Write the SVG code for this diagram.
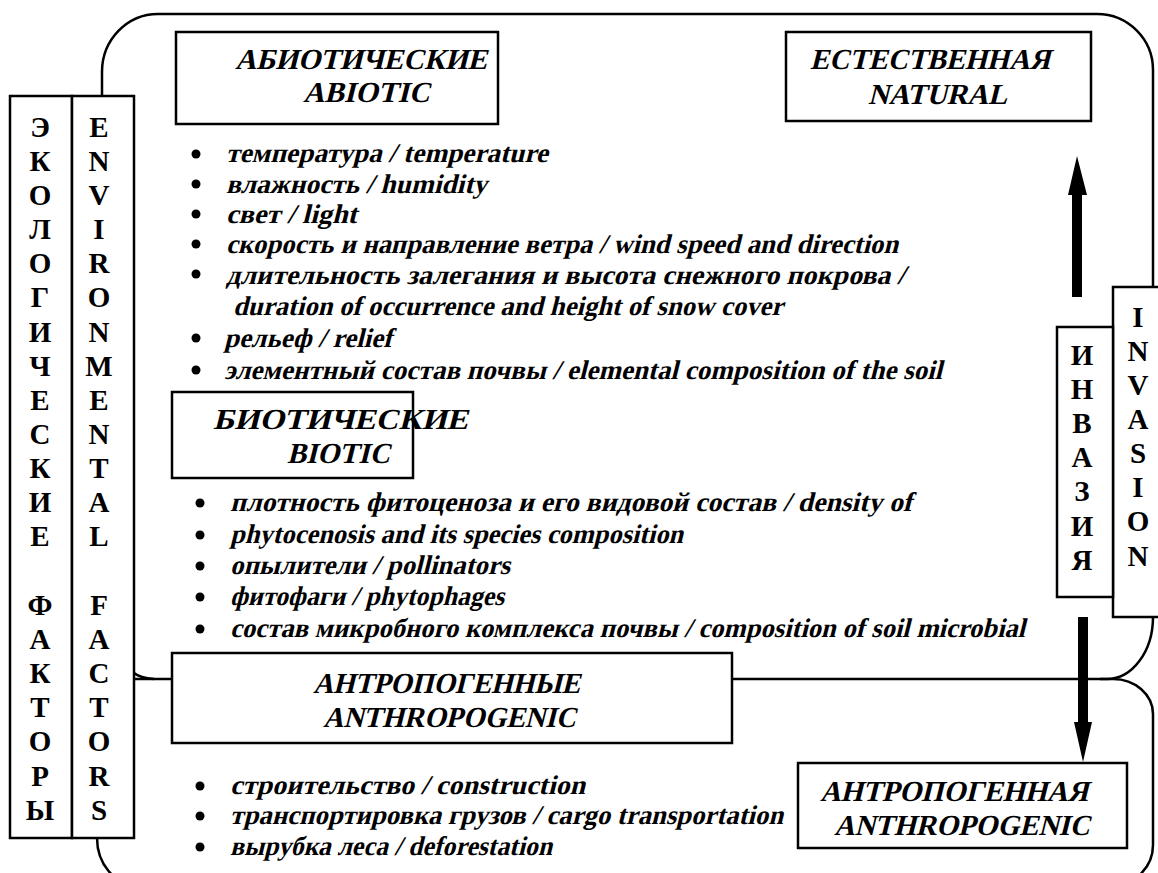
<svg xmlns="http://www.w3.org/2000/svg" width="1158" height="873" viewBox="0 0 1158 873">
<style>
.ln{fill:none;stroke:#000;stroke-width:2.5}
.bx{fill:#fff;stroke:#000;stroke-width:2.5}
.hd{font-family:"Liberation Serif","Times New Roman",serif;font-weight:bold;font-size:29px;fill:#000}
.it{font-family:"Liberation Serif","Times New Roman",serif;font-weight:bold;font-size:27px;fill:#000}
.vl{font-family:"Liberation Serif","Times New Roman",serif;font-weight:bold;font-size:29px;fill:#000;text-anchor:middle}
.bu{fill:#000}
</style>
<rect width="1158" height="873" fill="#fff"/>
<g id="connectors">
<path class="ln" d="M102,96 L102,72 A56,58 0 0 1 158,14 L1097,14 A56,56 0 0 1 1153,70 L1153,288"/>
<path class="ln" d="M1153,617 A46,62 0 0 1 1107,679 L732,679"/>
<path class="ln" d="M1100,679 L1113,679 A40,35 0 0 1 1153,714 L1153,845 A40,40 0 0 1 1113,885 L137,885 A40,47 0 0 1 97,838"/>
<path class="ln" d="M134,679 L172,679"/>
<path class="ln" d="M134,673 Q140,678 154,679" stroke-width="2"/>
<path class="bu" d="M1072,297 L1072,195 L1068,195 L1077,156 L1087,195 L1082,195 L1082,297 Z"/>
<path class="bu" d="M1078,617 L1088,617 L1088,722 L1092,722 L1083,762 L1074,722 L1078,722 Z"/>
</g>
<g id="eco-factors">
<rect class="bx" x="10" y="96" width="62" height="742"/>
<text class="vl" x="40" y="137">Э</text>
<text class="vl" x="40" y="171">К</text>
<text class="vl" x="40" y="205">О</text>
<text class="vl" x="40" y="239">Л</text>
<text class="vl" x="40" y="273">О</text>
<text class="vl" x="40" y="307">Г</text>
<text class="vl" x="40" y="342">И</text>
<text class="vl" x="40" y="376">Ч</text>
<text class="vl" x="40" y="410">Е</text>
<text class="vl" x="40" y="444">С</text>
<text class="vl" x="40" y="478">К</text>
<text class="vl" x="40" y="512">И</text>
<text class="vl" x="40" y="546">Е</text>
<text class="vl" x="40" y="615">Ф</text>
<text class="vl" x="40" y="649">А</text>
<text class="vl" x="40" y="683">К</text>
<text class="vl" x="40" y="717">Т</text>
<text class="vl" x="40" y="751">О</text>
<text class="vl" x="40" y="786">Р</text>
<text class="vl" x="40" y="820">Ы</text>
</g>
<g id="env-factors">
<rect class="bx" x="72" y="96" width="62" height="742"/>
<text class="vl" x="99" y="137">E</text>
<text class="vl" x="99" y="171">N</text>
<text class="vl" x="99" y="205">V</text>
<text class="vl" x="99" y="239">I</text>
<text class="vl" x="99" y="273">R</text>
<text class="vl" x="99" y="307">O</text>
<text class="vl" x="99" y="342">N</text>
<text class="vl" x="99" y="376">M</text>
<text class="vl" x="99" y="410">E</text>
<text class="vl" x="99" y="444">N</text>
<text class="vl" x="99" y="478">T</text>
<text class="vl" x="99" y="512">A</text>
<text class="vl" x="99" y="546">L</text>
<text class="vl" x="99" y="615">F</text>
<text class="vl" x="99" y="649">A</text>
<text class="vl" x="99" y="683">C</text>
<text class="vl" x="99" y="717">T</text>
<text class="vl" x="99" y="751">O</text>
<text class="vl" x="99" y="786">R</text>
<text class="vl" x="99" y="820">S</text>
</g>
<g id="abiotic">
<rect class="bx" x="176" y="32" width="322" height="92"/>
<text class="hd" transform="translate(235,69) skewX(-14)" textLength="252" lengthAdjust="spacingAndGlyphs">АБИОТИЧЕСКИЕ</text>
<text class="hd" transform="translate(303,102) skewX(-14)" textLength="127" lengthAdjust="spacingAndGlyphs">ABIOTIC</text>
</g>
<g id="abiotic-list">
<circle class="bu" cx="196" cy="154" r="4.5"/>
<circle class="bu" cx="196" cy="184" r="4.5"/>
<circle class="bu" cx="196" cy="214" r="4.5"/>
<circle class="bu" cx="196" cy="244" r="4.5"/>
<circle class="bu" cx="196" cy="274" r="4.5"/>
<circle class="bu" cx="196" cy="338" r="4.5"/>
<circle class="bu" cx="196" cy="370" r="4.5"/>
<text class="it" transform="translate(226,162) skewX(-14)" textLength="322" lengthAdjust="spacingAndGlyphs">температура / temperature</text>
<text class="it" transform="translate(226,193) skewX(-14)" textLength="261" lengthAdjust="spacingAndGlyphs">влажность / humidity</text>
<text class="it" transform="translate(226,223) skewX(-14)" textLength="131" lengthAdjust="spacingAndGlyphs">свет / light</text>
<text class="it" transform="translate(226,253) skewX(-14)" textLength="672" lengthAdjust="spacingAndGlyphs">скорость и направление ветра / wind speed and direction</text>
<text class="it" transform="translate(226,284) skewX(-14)" textLength="679" lengthAdjust="spacingAndGlyphs">длительность залегания и высота снежного покрова /</text>
<text class="it" transform="translate(233,315) skewX(-14)" textLength="550" lengthAdjust="spacingAndGlyphs">duration of occurrence and height of snow cover</text>
<text class="it" transform="translate(224,347) skewX(-14)" textLength="168" lengthAdjust="spacingAndGlyphs">рельеф / relief</text>
<text class="it" transform="translate(224,379) skewX(-14)" textLength="718" lengthAdjust="spacingAndGlyphs">элементный состав почвы / elemental composition of the soil</text>
</g>
<g id="natural">
<rect class="bx" x="786" y="32" width="305" height="89"/>
<text class="hd" transform="translate(810,69) skewX(-14)" textLength="240" lengthAdjust="spacingAndGlyphs">ЕСТЕСТВЕННАЯ</text>
<text class="hd" transform="translate(868,104) skewX(-14)" textLength="139" lengthAdjust="spacingAndGlyphs">NATURAL</text>
</g>
<g id="biotic">
<rect class="bx" x="172" y="392" width="241" height="86"/>
<text class="hd" transform="translate(213,429) skewX(-14)" textLength="255" lengthAdjust="spacingAndGlyphs">БИОТИЧЕСКИЕ</text>
<text class="hd" transform="translate(287,463) skewX(-14)" textLength="103" lengthAdjust="spacingAndGlyphs">BIOTIC</text>
</g>
<g id="biotic-list">
<circle class="bu" cx="200" cy="503" r="4.5"/>
<circle class="bu" cx="200" cy="535" r="4.5"/>
<circle class="bu" cx="200" cy="566" r="4.5"/>
<circle class="bu" cx="200" cy="597" r="4.5"/>
<circle class="bu" cx="200" cy="629" r="4.5"/>
<text class="it" transform="translate(230,511) skewX(-14)" textLength="682" lengthAdjust="spacingAndGlyphs">плотность фитоценоза и его видовой состав / density of</text>
<text class="it" transform="translate(230,543) skewX(-14)" textLength="453" lengthAdjust="spacingAndGlyphs">phytocenosis and its species composition</text>
<text class="it" transform="translate(230,574) skewX(-14)" textLength="280" lengthAdjust="spacingAndGlyphs">опылители / pollinators</text>
<text class="it" transform="translate(230,605) skewX(-14)" textLength="274" lengthAdjust="spacingAndGlyphs">фитофаги / phytophages</text>
<text class="it" transform="translate(230,637) skewX(-14)" textLength="795" lengthAdjust="spacingAndGlyphs">состав микробного комплекса почвы / composition of soil microbial</text>
</g>
<g id="anthropogenic-factors">
<rect class="bx" x="172" y="653" width="560" height="90"/>
<text class="hd" transform="translate(313,693) skewX(-14)" textLength="267" lengthAdjust="spacingAndGlyphs">АНТРОПОГЕННЫЕ</text>
<text class="hd" transform="translate(323,727) skewX(-14)" textLength="253" lengthAdjust="spacingAndGlyphs">ANTHROPOGENIC</text>
</g>
<g id="anthropogenic-list">
<circle class="bu" cx="200" cy="786" r="4.5"/>
<circle class="bu" cx="200" cy="816" r="4.5"/>
<circle class="bu" cx="200" cy="847" r="4.5"/>
<text class="it" transform="translate(230,794) skewX(-14)" textLength="355" lengthAdjust="spacingAndGlyphs">строительство / construction</text>
<text class="it" transform="translate(230,824) skewX(-14)" textLength="553" lengthAdjust="spacingAndGlyphs">транспортировка грузов / cargo transportation</text>
<text class="it" transform="translate(230,855) skewX(-14)" textLength="322" lengthAdjust="spacingAndGlyphs">вырубка леса / deforestation</text>
</g>
<g id="invasion">
<rect class="bx" x="1113" y="287" width="50" height="330"/>
<text class="vl" x="1138" y="327">I</text>
<text class="vl" x="1138" y="361">N</text>
<text class="vl" x="1138" y="395">V</text>
<text class="vl" x="1138" y="429">A</text>
<text class="vl" x="1138" y="463">S</text>
<text class="vl" x="1138" y="497">I</text>
<text class="vl" x="1138" y="531">O</text>
<text class="vl" x="1138" y="566">N</text>
</g>
<g id="invaziya">
<rect class="bx" x="1057" y="327" width="56" height="270"/>
<text class="vl" x="1082" y="365">И</text>
<text class="vl" x="1082" y="399">Н</text>
<text class="vl" x="1082" y="433">В</text>
<text class="vl" x="1082" y="467">А</text>
<text class="vl" x="1082" y="501">З</text>
<text class="vl" x="1082" y="536">И</text>
<text class="vl" x="1082" y="570">Я</text>
</g>
<g id="anthropogenic">
<rect class="bx" x="798" y="763" width="329" height="85"/>
<text class="hd" transform="translate(820,801) skewX(-14)" textLength="268" lengthAdjust="spacingAndGlyphs">АНТРОПОГЕННАЯ</text>
<text class="hd" transform="translate(834,835) skewX(-14)" textLength="256" lengthAdjust="spacingAndGlyphs">ANTHROPOGENIC</text>
</g>
</svg>
